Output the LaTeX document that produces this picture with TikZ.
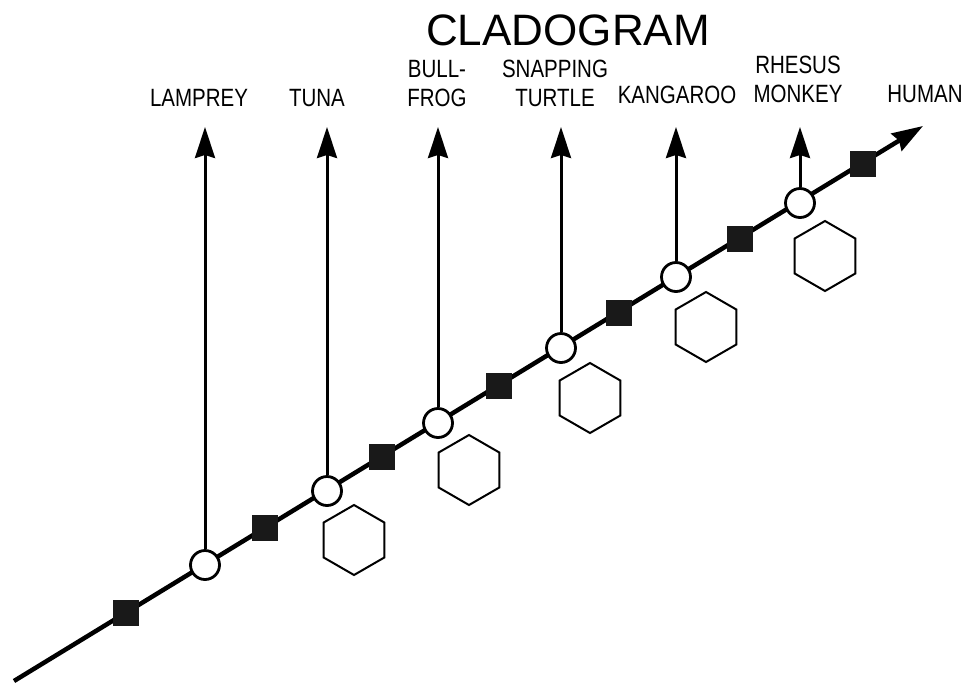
\documentclass[tikz,border=0pt]{standalone}
\usepackage{fontspec}
\setmainfont{Liberation Sans}
\newfontfamily\labelfont[FakeStretch=0.82]{Liberation Sans}
\usetikzlibrary{arrows.meta,shapes.geometric}
\tikzset{
  taxon/.style={circle, draw, fill=white, line width=2.8pt, minimum size=29pt, inner sep=0pt},
  trait/.style={rectangle, fill=black!90, minimum size=26pt, inner sep=0pt},
  derived/.style={regular polygon, regular polygon sides=6, shape border rotate=30, draw, line width=2pt, minimum size=70pt, inner sep=0pt},
  taxlabel/.style={anchor=south, inner sep=0pt, align=center, font=\labelfont\fontsize{25}{29}\selectfont},
  branch/.style={-{Stealth[length=31pt,width=20pt,inset=3pt]}}
}

\begin{document}
\begin{tikzpicture}[x=1pt, y=-1pt]
		%%%%% START %%%%%
		\useasboundingbox (0,0) rectangle (968,683);
		
		\node[font=\fontsize{44}{50}\selectfont, anchor=base, inner sep=0pt] (title) at (568,45) {CLADOGRAM};
		
		% main line
		\coordinate (root) at (14,681);
		\coordinate (humantip) at (923,126);
		\draw[line width=4.5pt, branch] (root) -- (humantip);
		
		% traits on the line
		\node[trait] (s1) at (126,613) {};
		\node[trait] (s2) at (265,528) {};
		\node[trait] (s3) at (382,457) {};
		\node[trait] (s4) at (499,386) {};
		\node[trait] (s5) at (619,313) {};
		\node[trait] (s6) at (740,239) {};
		\node[trait] (s7) at (863,164) {};
		
		% branch points
		\node[taxon] (lamprey) at (205,565) {};
		\node[taxon] (tuna) at (327,491) {};
		\node[taxon] (frog) at (438,423) {};
		\node[taxon] (turtle) at (561,348) {};
		\node[taxon] (kangaroo) at (676,277) {};
		\node[taxon] (monkey) at (800,203) {};
		
		% hexagons
		\node[derived] (h2) at (354,540) {};
		\node[derived] (h3) at (469,470) {};
		\node[derived] (h4) at (590,398) {};
		\node[derived] (h5) at (706,327) {};
		\node[derived] (h6) at (825,256) {};
		
		% branches up
		\coordinate (lampreytip) at (205,127);
		\coordinate (tunatip) at (327,127);
		\coordinate (frogtip) at (438,127);
		\coordinate (turtletip) at (561,127);
		\coordinate (kangarootip) at (676,127);
		\coordinate (monkeytip) at (800,127);
		\draw[line width=3pt, branch] (lamprey) -- (lampreytip);
		\draw[line width=3pt, branch] (tuna) -- (tunatip);
		\draw[line width=3pt, branch] (frog) -- (frogtip);
		\draw[line width=3pt, branch] (turtle) -- (turtletip);
		\draw[line width=3pt, branch] (kangaroo) -- (kangarootip);
		\draw[line width=3pt, branch] (monkey) -- (monkeytip);
		
		% names
		\node[taxlabel] (lampreytxt) at (199,107) {LAMPREY};
		\node[taxlabel] (tunatxt) at (317,107) {TUNA};
		\node[taxlabel] (frogtxt) at (437,107) {BULL-\\FROG};
		\node[taxlabel] (turtletxt) at (555,107) {SNAPPING\\TURTLE};
		\node[taxlabel] (kangarootxt) at (677,104) {KANGAROO};
		\node[taxlabel] (monkeytxt) at (798,103) {RHESUS\\MONKEY};
		\node[taxlabel] (humantxt) at (925,103) {HUMAN};
		
		%%%%% END %%%%%
	\end{tikzpicture}
\end{document}
